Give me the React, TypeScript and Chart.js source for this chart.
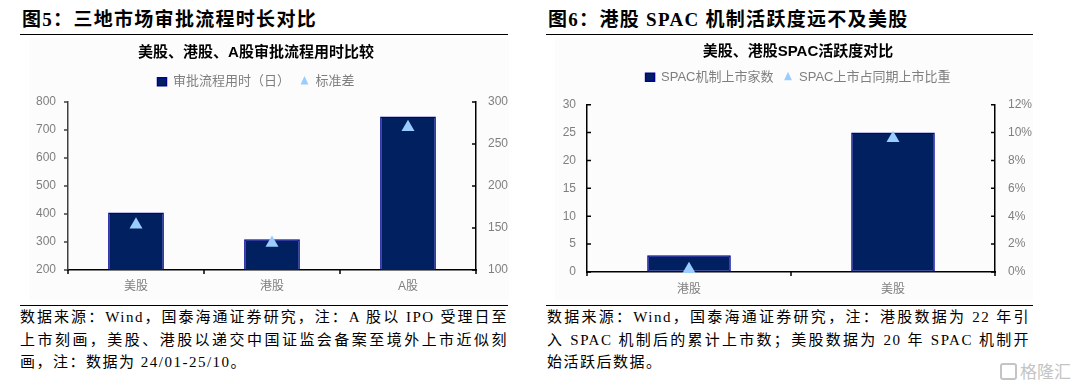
import React, { useEffect, useRef } from 'react';
import { Chart, registerables } from 'chart.js';

Chart.register(...registerables);

// ---------------- data ----------------
const approvalCategories = ['美股', '港股', 'A股'];
const approvalDays = [405, 310, 748];
const approvalStdDev = [154, 132, 270];
const approvalDayTicks = [200, 300, 400, 500, 600, 700, 800];
const approvalStdTicks = [100, 150, 200, 250, 300];

const spacCategories = ['港股', '美股'];
const spacListings = [3, 25];
const spacSharePct = [0.2, 9.6];
const spacListingTicks = [0, 5, 10, 15, 20, 25, 30];
const spacShareTicks = [0, 2, 4, 6, 8, 10, 12];

const leftHeading = '图5：三地市场审批流程时长对比';
const rightHeading = '图6：港股 SPAC 机制活跃度远不及美股';
const leftTitle = '美股、港股、A股审批流程用时比较';
const rightTitle = '美股、港股SPAC活跃度对比';
const leftLegend = ['审批流程用时（日）', '标准差'];
const rightLegend = ['SPAC机制上市家数', 'SPAC上市占同期上市比重'];
const leftFooter = [
  '数据来源：Wind，国泰海通证券研究，注：A 股以 IPO 受理日至',
  '上市刻画，美股、港股以递交中国证监会备案至境外上市近似刻',
  '画，注：数据为 24/01-25/10。',
];
const rightFooter = [
  '数据来源：Wind，国泰海通证券研究，注：港股数据为 22 年引',
  '入 SPAC 机制后的累计上市数；美股数据为 20 年 SPAC 机制开',
  '始活跃后数据。',
];

// ---------------- styles ----------------
const SANS = "'Liberation Sans', 'Noto Sans CJK SC', sans-serif";
const SERIF = "'Liberation Serif', 'Noto Sans CJK SC', serif";
const BAR_FILL = '#002060';
const BAR_EDGE = '#000099';
const TRI = '#99CCFF';
const TICK_TEXT = '#7f7f7f';

type AxisDir = 'in' | 'out';

const tickMarks = {
  id: 'tickMarks',
  afterDraw(chart: any, _args: any, opts: any) {
    const { ctx, chartArea } = chart;
    const len = opts.length ?? 4;
    ctx.save();
    ctx.lineWidth = opts.lineWidth ?? 1.5;
    (opts.axes || []).forEach((a: any) => {
      const scale = chart.scales[a.id];
      if (!scale) return;
      ctx.strokeStyle = a.color;
      ctx.beginPath();
      if (scale.isHorizontal()) {
        const n = scale.ticks.length;
        const y = chartArea.bottom;
        for (let i = 0; i <= n; i++) {
          let x: number;
          if (i === 0) x = scale.left;
          else if (i === n) x = scale.right;
          else x = (scale.getPixelForTick(i - 1) + scale.getPixelForTick(i)) / 2;
          ctx.moveTo(x, y);
          ctx.lineTo(x, y + (a.dir === 'out' ? len : -len));
        }
      } else {
        const onLeft = scale.position === 'left';
        const x = onLeft ? chartArea.left : chartArea.right;
        const sign = (onLeft ? -1 : 1) * (a.dir === 'out' ? 1 : -1);
        scale.ticks.forEach((t: any) => {
          const y = scale.getPixelForValue(t.value);
          ctx.moveTo(x, y);
          ctx.lineTo(x + sign * len, y);
        });
      }
      ctx.stroke();
    });
    ctx.restore();
  },
};

interface ChartProps {
  left: number; top: number; width: number; height: number;
  padL: number; padR: number;
  yWidth: number; y1Width: number; xHeight: number;
  xPad: number; yPad: number; y1Pad: number;
  titleTop: number; titleBottom: number; spacer: number;
  title: string; legend: string[];
  categories: string[]; bars: number[]; points: number[];
  yTicks: number[]; y1Ticks: number[]; y1Suffix: string;
  yDir: AxisDir; y1Dir: AxisDir; yColor: string;
}

function BarTriangleChart(p: ChartProps) {
  const ref = useRef<HTMLCanvasElement>(null);
  useEffect(() => {
    if (!ref.current) return;
    const tickFont = { family: SANS, size: 12 };
    const chart = new Chart(ref.current, {
      type: 'bar',
      data: {
        labels: p.categories,
        datasets: [
          {
            type: 'bar',
            label: p.legend[0],
            data: p.bars,
            xAxisID: 'x',
            yAxisID: 'y',
            backgroundColor: BAR_FILL,
            borderColor: BAR_EDGE,
            borderWidth: 1.5,
            borderSkipped: false,
            barPercentage: 0.41,
            categoryPercentage: 1,
            pointStyle: 'rect',
            order: 2,
          } as any,
          {
            type: 'line',
            label: p.legend[1],
            data: p.points,
            xAxisID: 'x',
            yAxisID: 'y1',
            showLine: false,
            pointStyle: 'triangle',
            pointRadius: 7.5,
            pointHoverRadius: 7.5,
            backgroundColor: TRI,
            borderColor: TRI,
            borderWidth: 0,
            pointBorderWidth: 0,
            clip: false,
            order: 1,
          } as any,
        ],
      },
      options: {
        responsive: false,
        animation: false,
        events: [],
        layout: { padding: { left: p.padL, right: p.padR, top: 0, bottom: 0 } },
        plugins: {
          title: {
            display: true,
            text: p.title,
            color: '#000',
            font: { family: SANS, size: 15, weight: 'bold' },
            padding: { top: p.titleTop, bottom: p.titleBottom },
          },
          legend: {
            display: true,
            position: 'top',
            labels: {
              usePointStyle: true,
              pointStyleWidth: 9,
              boxHeight: 8,
              padding: 10,
              color: TICK_TEXT,
              font: { family: SANS, size: 13 },
              sort: (a: any, b: any) => a.datasetIndex - b.datasetIndex,
            },
          },
          tooltip: { enabled: false },
          tickMarks: {
            length: 4,
            lineWidth: 1.5,
            axes: [
              { id: 'y', dir: p.yDir, color: p.yColor },
              { id: 'y1', dir: p.y1Dir, color: '#000' },
              { id: 'x', dir: 'out', color: '#000' },
            ],
          },
        } as any,
        scales: {
          x: {
            type: 'category',
            position: 'bottom',
            z: 1,
            grid: { display: false, drawTicks: false },
            border: { display: true, color: '#000', width: 1.5 },
            ticks: { padding: p.xPad, color: TICK_TEXT, font: tickFont },
            afterFit: (s: any) => { s.height = p.xHeight; },
          },
          y: {
            type: 'linear',
            position: 'left',
            min: p.yTicks[0],
            max: p.yTicks[p.yTicks.length - 1],
            grid: { display: false, drawTicks: false },
            border: { display: true, color: p.yColor, width: 1.5 },
            ticks: { stepSize: p.yTicks[1] - p.yTicks[0], padding: p.yPad, color: TICK_TEXT, font: tickFont },
            afterFit: (s: any) => { s.width = p.yWidth; },
          },
          y1: {
            type: 'linear',
            position: 'right',
            min: p.y1Ticks[0],
            max: p.y1Ticks[p.y1Ticks.length - 1],
            grid: { display: false, drawTicks: false },
            border: { display: true, color: '#000', width: 1.5 },
            ticks: {
              stepSize: p.y1Ticks[1] - p.y1Ticks[0],
              padding: p.y1Pad,
              color: TICK_TEXT,
              font: tickFont,
              callback: (v: any) => `${v}${p.y1Suffix}`,
            },
            afterFit: (s: any) => { s.width = p.y1Width; },
          },
          gap: {
            type: 'linear',
            position: 'top',
            display: true,
            grid: { display: false, drawTicks: false },
            border: { display: false },
            ticks: { display: false },
            afterFit: (s: any) => { s.height = p.spacer; },
          },
        } as any,
      },
      plugins: [tickMarks as any],
    });
    return () => chart.destroy();
  }, []);
  return (
    <canvas
      ref={ref}
      width={p.width}
      height={p.height}
      style={{ position: 'absolute', left: p.left, top: p.top, width: p.width, height: p.height }}
    />
  );
}

function Footer({ lines, left, width }: { lines: string[]; left: number; width: number }) {
  return (
    <div
      style={{
        position: 'absolute',
        left,
        top: 306,
        width,
        fontFamily: SERIF,
        fontSize: 15,
        lineHeight: '22.5px',
        letterSpacing: '1.5px',
        color: '#000',
      }}
    >
      {lines.map((t, i) => (
        <div
          key={i}
          style={{
            textAlign: i < lines.length - 1 ? 'justify' : 'left',
            textAlignLast: i < lines.length - 1 ? 'justify' : 'left',
          } as React.CSSProperties}
        >
          {t}
        </div>
      ))}
    </div>
  );
}

function Heading({ text, left }: { text: string; left: number }) {
  return (
    <div
      style={{
        position: 'absolute',
        left,
        top: 7,
        fontFamily: SERIF,
        fontWeight: 'bold',
        fontSize: 19,
        letterSpacing: '1.3px',
        lineHeight: '26px',
        whiteSpace: 'nowrap',
        color: '#000',
      }}
    >
      {text}
    </div>
  );
}

const rule = (left: number, top: number, width: number): React.CSSProperties => ({
  position: 'absolute',
  left,
  top,
  width,
  height: 1,
  background: '#000',
});

export default function App() {
  return (
    <div
      style={{
        position: 'absolute',
        left: 0,
        top: 0,
        width: 1080,
        height: 388,
        background: '#fff',
        overflow: 'hidden',
      }}
    >
      <div style={{ position: 'absolute', left: 29, top: 38, width: 480, height: 262, background: '#fcfcfc' }} />
      <div style={{ position: 'absolute', left: 555, top: 38, width: 478, height: 262, background: '#fcfcfc' }} />

      <Heading text={leftHeading} left={22} />
      <Heading text={rightHeading} left={548} />
      <div style={rule(20, 34, 488)} />
      <div style={rule(546, 34, 487)} />

      <BarTriangleChart
        left={0} top={38} width={512} height={264}
        padL={0} padR={0}
        yWidth={68} y1Width={36} xHeight={32}
        xPad={9.5} yPad={12} y1Pad={12}
        titleTop={6} titleBottom={3.2} spacer={3.8}
        title={leftTitle} legend={leftLegend}
        categories={approvalCategories} bars={approvalDays} points={approvalStdDev}
        yTicks={approvalDayTicks} y1Ticks={approvalStdTicks} y1Suffix=""
        yDir="out" y1Dir="in" yColor="#404040"
      />
      <BarTriangleChart
        left={545} top={36} width={495} height={266}
        padL={11} padR={0}
        yWidth={31} y1Width={45} xHeight={30}
        xPad={10.8} yPad={11} y1Pad={13}
        titleTop={6.7} titleBottom={0.1} spacer={10.9}
        title={rightTitle} legend={rightLegend}
        categories={spacCategories} bars={spacListings} points={spacSharePct}
        yTicks={spacListingTicks} y1Ticks={spacShareTicks} y1Suffix="%"
        yDir="in" y1Dir="in" yColor="#000"
      />

      <div style={rule(20, 305, 488)} />
      <div style={rule(546, 305, 487)} />
      <Footer lines={leftFooter} left={20} width={488} />
      <Footer lines={rightFooter} left={547} width={483} />

      <div
        style={{
          position: 'absolute',
          left: 1000,
          top: 361,
          display: 'flex',
          alignItems: 'center',
          gap: 3,
          color: '#c4c4c4',
          fontFamily: "'Noto Sans CJK SC', sans-serif",
          fontSize: 17,
          lineHeight: '20px',
        }}
      >
        <span
          style={{
            display: 'inline-block',
            width: 13,
            height: 13,
            border: '2px solid #c4c4c4',
            borderRadius: 3,
          }}
        />
        <span>格隆汇</span>
      </div>
    </div>
  );
}
